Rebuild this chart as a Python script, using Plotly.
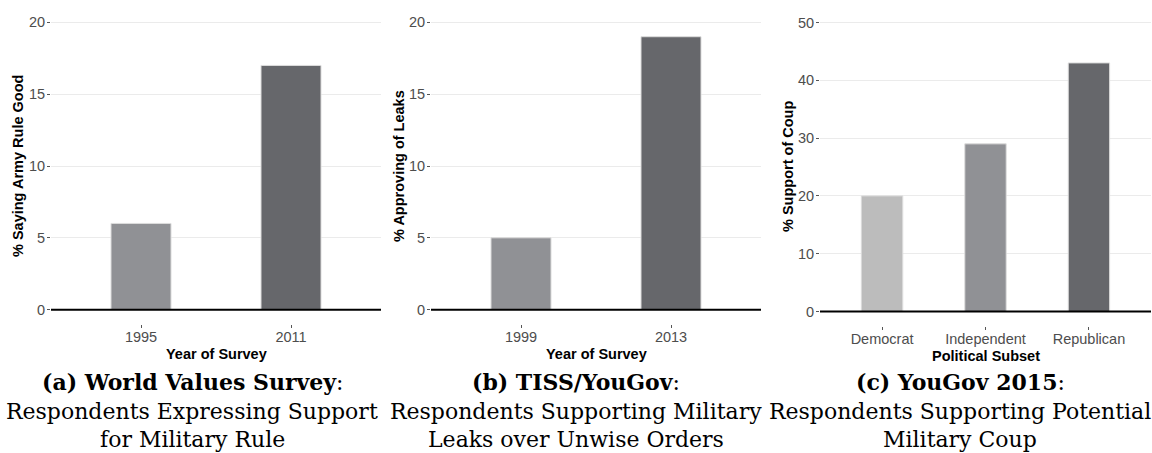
import plotly.graph_objects as go

# --- data -------------------------------------------------------------
wvs_years = ["1995", "2011"]
wvs_pct = [6, 17]

tiss_years = ["1999", "2013"]
tiss_pct = [5, 19]

yougov_party = ["Democrat", "Independent", "Republican"]
yougov_pct = [20, 29, 43]

wvs_colors = ["#909195", "#66676b"]
tiss_colors = ["#909195", "#66676b"]
yougov_colors = ["#bcbcbc", "#909195", "#66676b"]

y_titles = ["% Saying Army Rule Good", "% Approving of Leaks", "% Support of Coup"]
x_titles = ["Year of Survey", "Year of Survey", "Political Subset"]

captions = [
    ["<b>(a) World Values Survey</b>:", "Respondents Expressing Support", "for Military Rule"],
    ["<b>(b) TISS/YouGov</b>:", "Respondents Supporting Military", "Leaks over Unwise Orders"],
    ["<b>(c) YouGov 2015</b>:", "Respondents Supporting Potential", "Military Coup"],
]

# --- layout helpers (pixel -> paper fraction) --------------------------
W, H = 1152, 453


def fx(p):
    return p / W


def fy(p):
    return 1 - p / H


SANS = "Liberation Sans, Arial, sans-serif"
SERIF = "DejaVu Serif, serif"
TICK_GREY = "#4d4d4d"
FS = 14.5

panels = [
    dict(cats=wvs_years, vals=wvs_pct, cols=wvs_colors, xpx=(51, 381), ypx=(8, 324),
         yr=[-1, 21], ticks=[0, 5, 10, 15, 20]),
    dict(cats=tiss_years, vals=tiss_pct, cols=tiss_colors, xpx=(431, 761), ypx=(8, 324),
         yr=[-1, 21], ticks=[0, 5, 10, 15, 20]),
    dict(cats=yougov_party, vals=yougov_pct, cols=yougov_colors, xpx=(820, 1151), ypx=(8, 326),
         yr=[-2.5, 52.5], ticks=[0, 10, 20, 30, 40, 50]),
]

fig = go.Figure()
annotations = []
shapes = []

for i, p in enumerate(panels, start=1):
    sfx = "" if i == 1 else str(i)
    fig.add_trace(go.Bar(
        x=p["cats"], y=p["vals"], width=0.4,
        marker=dict(color=p["cols"], line=dict(color="#dcdcdc", width=1)),
        xaxis="x" + sfx, yaxis="y" + sfx, showlegend=False, hoverinfo="x+y",
    ))
    n = len(p["cats"])
    fig.layout["xaxis" + sfx] = dict(
        domain=[fx(p["xpx"][0]), fx(p["xpx"][1])], anchor="y" + sfx,
        type="category", range=[-0.6, n - 0.4],
        showgrid=False, zeroline=False, showline=False,
        ticks="outside", ticklen=3, tickwidth=1, tickcolor="#555555",
        tickfont=dict(family=SANS, size=FS, color=TICK_GREY),
        ticklabelstandoff=-3, fixedrange=True,
    )
    fig.layout["yaxis" + sfx] = dict(
        domain=[fy(p["ypx"][1]), fy(p["ypx"][0])], anchor="x" + sfx,
        range=p["yr"], tickvals=p["ticks"],
        showgrid=True, gridcolor="#ebebeb", gridwidth=1,
        zeroline=False, showline=False,
        ticks="outside", ticklen=3, tickwidth=1, tickcolor="#555555",
        tickfont=dict(family=SANS, size=FS, color=TICK_GREY),
        ticklabelstandoff=-1, fixedrange=True,
    )
    # black baseline at zero
    shapes.append(dict(type="line", xref="x" + sfx + " domain", yref="y" + sfx,
                       x0=0, x1=1, y0=0, y1=0, layer="above",
                       line=dict(color="black", width=2)))

    cx = (p["xpx"][0] + p["xpx"][1]) / 2
    # x-axis title
    annotations.append(dict(text="<b>%s</b>" % x_titles[i - 1], xref="paper", yref="paper",
                            x=fx(cx), y=fy(p["ypx"][1] + 29.5), xanchor="center", yanchor="middle",
                            showarrow=False, font=dict(family=SANS, size=FS, color="black")))
    # y-axis title
    ytx = [18, 399, 788][i - 1]
    annotations.append(dict(text="<b>%s</b>" % y_titles[i - 1], xref="paper", yref="paper",
                            x=fx(ytx), y=fy((p["ypx"][0] + p["ypx"][1]) / 2), textangle=-90,
                            xanchor="center", yanchor="middle", showarrow=False,
                            font=dict(family=SANS, size=FS, color="black")))
    # caption under the panel
    ccx = [192, 576, 960][i - 1]
    for line, ypix in zip(captions[i - 1], [382, 411, 439]):
        annotations.append(dict(text=line, xref="paper", yref="paper",
                                x=fx(ccx), y=fy(ypix), xanchor="center", yanchor="middle",
                                showarrow=False, font=dict(family=SERIF, size=22, color="black")))

fig.update_layout(
    width=W, height=H, margin=dict(l=0, r=0, t=0, b=0),
    paper_bgcolor="white", plot_bgcolor="white",
    annotations=annotations, shapes=shapes, bargap=0.6,
)

fig.write_html("out.html", config={"displayModeBar": False})
